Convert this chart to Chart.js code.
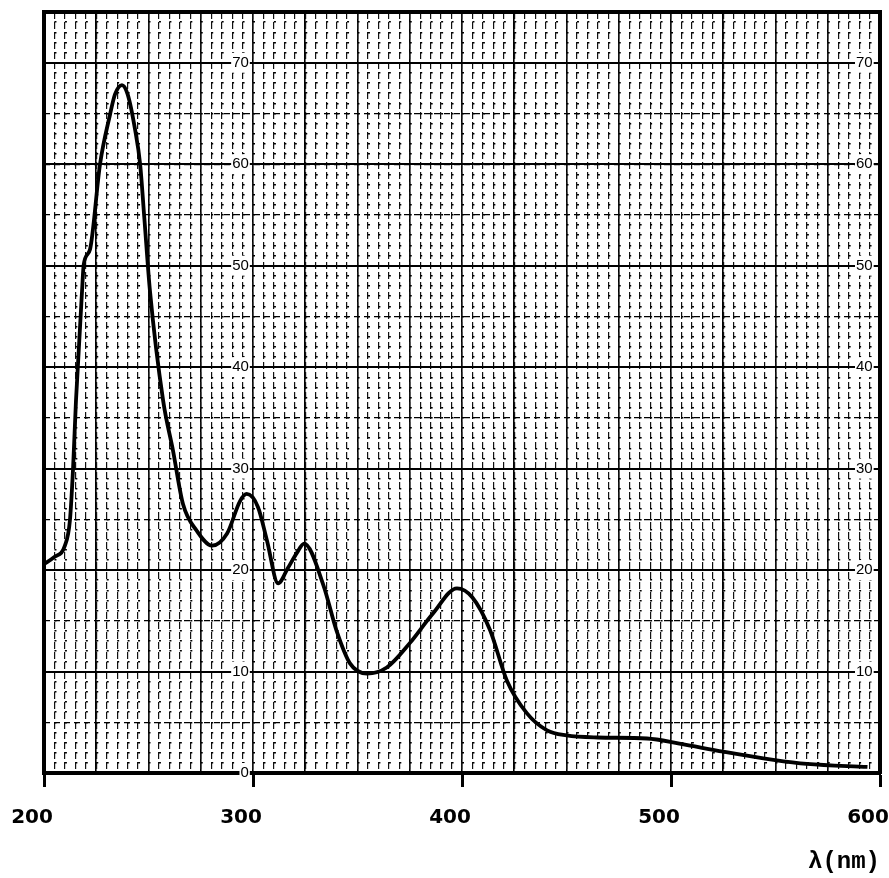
<!DOCTYPE html>
<html>
<head>
<meta charset="utf-8">
<script src="https://cdn.jsdelivr.net/npm/chart.js@4.4.1/dist/chart.umd.min.js"></script>
<style>
  html, body { margin: 0; padding: 0; background: #fff; }
  #wrap { width: 889px; height: 878px; }
</style>
</head>
<body>
<div id="wrap"><canvas id="spectrum"></canvas></div>
<script>
// wavelength (nm) and absorbance
var wavelength = [200, 205, 210, 212.4, 213.9, 215.3, 218.2, 219, 222, 226.8, 231.6, 234, 237.3, 240, 243.5, 246, 248, 250.7,
  257, 261.7, 266.5, 273, 280.4, 287.6, 293.8, 297, 302.4, 306.7, 312, 316.7, 321, 324.5, 333.7, 340, 346.4, 354.5,
  364, 375, 386, 397.6, 405, 413.4, 421.5, 431, 440.7, 450, 465, 488.5, 504, 525, 549, 565, 594];
var absorbance = [20.6, 21.3, 22.4, 24.9, 30, 36.7, 47.5, 50.1, 51.6, 60, 64.9, 66.9, 67.8, 66.9, 63.5, 60, 54.7, 47.5,
  36.7, 31.8, 26.5, 23.9, 22.4, 23.6, 26.8, 27.5, 26.2, 22.9, 18.7, 20.2, 21.7, 22.6, 18.5, 14.0, 10.8, 9.8,
  10.4, 12.8, 15.7, 18.2, 17.3, 14.1, 9.1, 5.9, 4.2, 3.7, 3.5, 3.4, 2.9, 2.1, 1.3, 0.9, 0.6];

var xTicks = [200, 300, 400, 500, 600];
var leftLabels = [0, 10, 20, 30, 40, 50, 60, 70];
var rightLabels = [10, 20, 30, 40, 50, 60, 70];

var points = wavelength.map(function (w, i) {
  return { x: w, y: absorbance[i] };
});

function hiddenTicks() {
  return { display: false };
}

new Chart(document.getElementById("spectrum"), {
  type: "line",
  data: {
    datasets: [
      {
        data: points,
        xAxisID: "x",
        yAxisID: "y",
        borderColor: "#000",
        borderWidth: 3.8,
        pointRadius: 0,
        cubicInterpolationMode: "monotone",
        fill: false,
      },
    ],
  },
  options: {
    responsive: true,
    maintainAspectRatio: false,
    animation: false,
    events: [],
    layout: { padding: { left: 44, right: 9, top: 10, bottom: 0 } },
    plugins: { legend: { display: false }, tooltip: { enabled: false } },
    scales: {
      x: {
        type: "linear",
        position: "bottom",
        min: 200,
        max: 600,
        afterBuildTicks: function (scale) {
          scale.ticks = xTicks.map(function (v) { return { value: v }; });
        },
        afterFit: function (scale) {
          scale.height = 105;
          scale.paddingLeft = 0;
          scale.paddingRight = 0;
        },
        grid: {
          drawOnChartArea: false,
          tickLength: 14,
          tickWidth: 3,
          tickColor: "#000",
        },
        border: { display: true, color: "#000", width: 4 },
        ticks: {
          color: "#000",
          padding: 19,
          labelOffset: -12,
          maxRotation: 0,
          autoSkip: false,
          font: { family: "DejaVu Sans", size: 20, weight: "bold" },
        },
        title: {
          display: true,
          text: "λ(nm)",
          align: "end",
          color: "#000",
          padding: { top: 0, bottom: 2 },
          font: { family: "Liberation Mono", size: 24, weight: "bold" },
        },
      },
      xMaj: {
        type: "linear",
        position: { y: 75 },
        min: 200,
        max: 600,
        ticks: { display: false, stepSize: 25 },
        grid: { color: "#000", lineWidth: 1.6, drawTicks: false },
        border: { display: true, color: "#000", width: 4 },
      },
      xMin: {
        type: "linear",
        position: { y: 0 },
        min: 200,
        max: 600,
        ticks: { display: false, stepSize: 5 },
        grid: { color: "#111", lineWidth: 1.2, drawTicks: false },
        border: { display: false, dash: [7, 3] },
      },
      y: {
        type: "linear",
        position: { x: 200 },
        min: 0,
        max: 75,
        ticks: { display: false, stepSize: 10 },
        grid: { color: "#000", lineWidth: 2, drawTicks: false },
        border: { display: true, color: "#000", width: 4 },
      },
      yMid: {
        type: "linear",
        position: { x: 200 },
        min: 0,
        max: 75,
        ticks: { display: false, stepSize: 5 },
        grid: { color: "#000", lineWidth: 1.3, drawTicks: false },
        border: { display: false, dash: [6, 4] },
      },
      yMin: {
        type: "linear",
        position: { x: 200 },
        min: 0,
        max: 75,
        ticks: { display: false, stepSize: 1 },
        grid: { color: "#000", lineWidth: 1.5, drawTicks: false },
        border: { display: false, dash: [2, 8.45] },
      },
      yRight: {
        type: "linear",
        position: { x: 600 },
        min: 0,
        max: 75,
        ticks: hiddenTicks(),
        grid: { display: false },
        border: { display: true, color: "#000", width: 4 },
      },
      yLabL: {
        type: "linear",
        position: { x: 298 },
        min: 0,
        max: 75,
        afterBuildTicks: function (scale) {
          scale.ticks = leftLabels.map(function (v) { return { value: v }; });
        },
        grid: { display: false },
        border: { display: false },
        ticks: {
          color: "#000",
          z: 1,
          showLabelBackdrop: true,
          backdropColor: "#fff",
          backdropPadding: 1,
          font: { family: "Liberation Sans", size: 15 },
        },
      },
      yLabR: {
        type: "linear",
        position: { x: 596.5 },
        min: 0,
        max: 75,
        afterBuildTicks: function (scale) {
          scale.ticks = rightLabels.map(function (v) { return { value: v }; });
        },
        grid: { display: false },
        border: { display: false },
        ticks: {
          color: "#000",
          z: 1,
          showLabelBackdrop: true,
          backdropColor: "#fff",
          backdropPadding: 1,
          font: { family: "Liberation Sans", size: 15 },
        },
      },
    },
  },
});
</script>
</body>
</html>
